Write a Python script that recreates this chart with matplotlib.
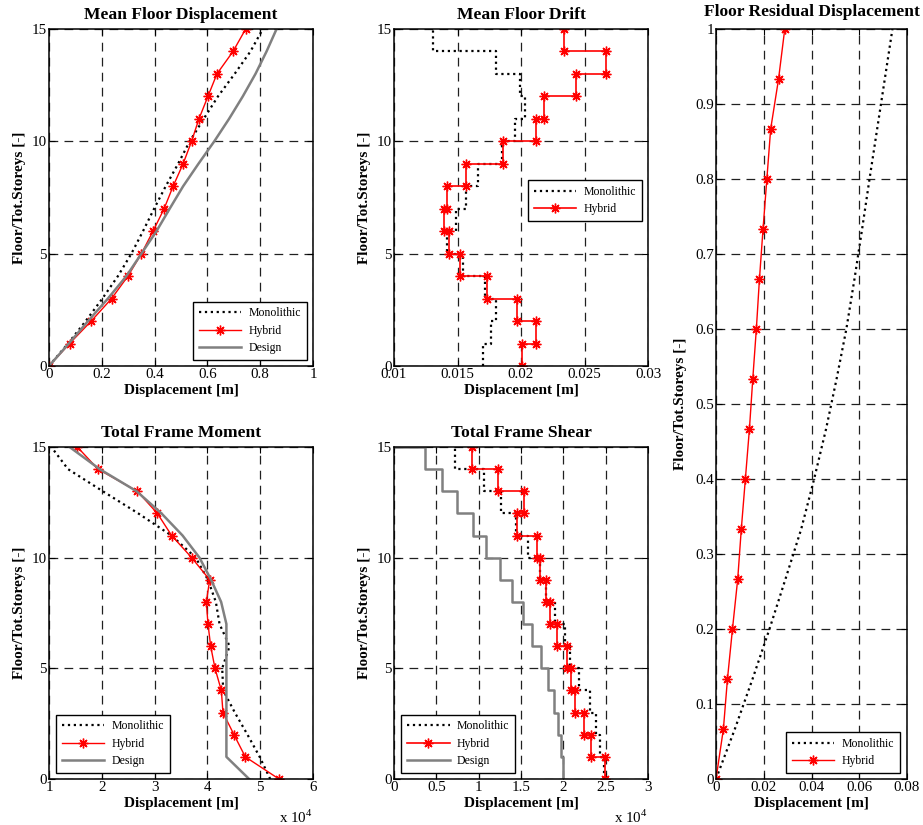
import numpy as np
import matplotlib
matplotlib.use("Agg")
import matplotlib.pyplot as plt
from matplotlib.ticker import FuncFormatter, FixedLocator

plt.rcParams['font.family'] = ['Liberation Serif', 'DejaVu Serif']
plt.rcParams['mathtext.fontset'] = 'custom'
plt.rcParams['mathtext.rm'] = 'Liberation Serif'

# ---------------- data ----------------
floors = np.arange(16)
storeys = 15

# Mean floor displacement [m]
disp_mono = [0, 0.072, 0.139, 0.202, 0.261, 0.312, 0.356, 0.398, 0.442, 0.489,
             0.533, 0.586, 0.640, 0.703, 0.763, 0.810]
disp_hybrid = [0, 0.078, 0.160, 0.237, 0.299, 0.350, 0.394, 0.436, 0.470, 0.508,
               0.540, 0.568, 0.602, 0.636, 0.697, 0.745]
disp_design = [0, 0.075, 0.148, 0.223, 0.293, 0.350, 0.407, 0.457, 0.508, 0.566,
               0.626, 0.682, 0.734, 0.782, 0.824, 0.862]

# Mean floor drift (per storey, storey 1..15)
drift_mono = [0.0170, 0.0176, 0.0180, 0.0172, 0.0154, 0.0142, 0.0149, 0.0157,
              0.0166, 0.0185, 0.0195, 0.0203, 0.0199, 0.0180, 0.0131]
drift_hybrid = [0.0201, 0.0212, 0.0197, 0.0173, 0.0152, 0.0143, 0.0139, 0.0142,
                0.0157, 0.0186, 0.0212, 0.0218, 0.0243, 0.0267, 0.0234]

# Floor residual displacement [m] at floor/total storeys
res_mono = [0, 0.0079, 0.0153, 0.0224, 0.0291, 0.0357, 0.0411, 0.0461, 0.0505,
            0.0546, 0.0580, 0.0612, 0.0643, 0.0675, 0.0707, 0.0739]
res_hybrid = [0, 0.0031, 0.0048, 0.0069, 0.0091, 0.0106, 0.0123, 0.0140, 0.0154,
              0.0169, 0.0182, 0.0197, 0.0213, 0.0229, 0.0262, 0.0288]

# Total frame moment
mom_mono = [51900, 49900, 47600, 45200, 43000, 42800, 44200, 42300, 41600, 40100,
            37800, 33200, 26900, 20200, 13600, 10440]
mom_hybrid = [53560, 47180, 45040, 42950, 42640, 41440, 40620, 40110, 39800, 40430,
              37020, 33230, 30520, 26730, 19280, 15370]
mom_design = [47900, 43600, 43600, 43600, 43600, 43600, 43600, 43600, 42600, 40700,
              38500, 35300, 31300, 26600, 19600, 13900]

# Total frame shear (per storey, storey 1..15)
shear_mono = [24800, 24300, 23800, 23200, 21900, 20750, 20200, 19000, 18000, 17300,
              15800, 14450, 12600, 10600, 7240]
shear_hybrid = [24960, 23310, 22440, 21420, 20870, 20430, 19250, 18430, 17990, 17200,
                16930, 14490, 15350, 12240, 9210]
shear_design = [19960, 19760, 19370, 18860, 18190, 17320, 16340, 15200, 13940, 12480,
                10900, 9330, 7440, 5630, 3660]

# ---------------- styling ----------------
RED = '#ff0000'
GRAY = '#808080'
AST = (8, 2, 0)
TITLE_FS = 12.6
LABEL_FS = 11
TICK_FS = 10.8
LEG_FS = 8.5

fig = plt.figure(figsize=(9.23, 8.25), dpi=100)
W, H = 923.0, 825.0


def add_ax(l, r, t, b):
    return fig.add_axes([l / W, 1 - b / H, (r - l) / W, (b - t) / H])


def style(ax, xlim, xticks, ylim, yticks, title, scale=1.0, tpad=7):
    ax.set_xlim(*xlim)
    ax.set_ylim(*ylim)
    ax.xaxis.set_major_locator(FixedLocator(xticks))
    ax.yaxis.set_major_locator(FixedLocator(yticks))
    ax.xaxis.set_major_formatter(FuncFormatter(lambda x, p: '%g' % round(x / scale, 6)))
    ax.yaxis.set_major_formatter(FuncFormatter(lambda x, p: '%g' % round(x, 6)))
    ax.tick_params(direction='in', length=4, width=0.8, top=True, right=True,
                   labelsize=TICK_FS, pad=1.5)
    ax.grid(True, color='#202020', linestyle=(0, (7, 5)), linewidth=0.9)
    for s in ax.spines.values():
        s.set_linewidth(1.1)
    ax.set_title(title, fontsize=TITLE_FS, fontweight='bold', pad=tpad)
    ax.set_xlabel('Displacement [m]', fontsize=LABEL_FS, fontweight='bold', labelpad=2)
    ax.set_ylabel('Floor/Tot.Storeys [-]', fontsize=LABEL_FS, fontweight='bold', labelpad=4)


def leg(ax, loc, anchor):
    lg = ax.legend(loc=loc, bbox_to_anchor=anchor, borderaxespad=0, fontsize=LEG_FS,
                   handlelength=3.6, fancybox=False, framealpha=1, edgecolor='black',
                   labelspacing=0.45, borderpad=0.5, handletextpad=0.6)
    lg.get_frame().set_linewidth(1.0)


def step_xy(vals):
    xs = np.repeat(np.asarray(vals, float), 2)
    ys = np.concatenate([[f, f + 1] for f in range(len(vals))])
    return xs, ys


# ---- 1: Mean Floor Displacement ----
ax1 = add_ax(49, 313, 29, 366)
ax1.plot(disp_mono, floors, color='black', linestyle=':', linewidth=1.6, label='Monolithic')
ax1.plot(disp_hybrid, floors, color=RED, linewidth=1.0, marker=AST, markersize=7,
         markeredgewidth=1.0, label='Hybrid')
ax1.plot(disp_design, floors, color=GRAY, linewidth=1.8, label='Design')
style(ax1, (0, 1), [0, 0.2, 0.4, 0.6, 0.8, 1.0], (0, 15), [0, 5, 10, 15],
      'Mean Floor Displacement')
leg(ax1, 'lower right', (0.977, 0.018))

# ---- 2: Mean Floor Drift ----
ax2 = add_ax(394, 648, 29, 366)
xm, ym = step_xy(drift_mono)
xh, yh = step_xy(drift_hybrid)
ax2.plot(xm, ym, color='black', linestyle=':', linewidth=1.6, label='Monolithic')
ax2.plot(xh, yh, color=RED, linewidth=1.2, marker=AST, markersize=7,
         markeredgewidth=1.0, label='Hybrid')
style(ax2, (0.01, 0.03), [0.01, 0.015, 0.02, 0.025, 0.03], (0, 15), [0, 5, 10, 15],
      'Mean Floor Drift')
leg(ax2, 'upper right', (0.976, 0.552))

# ---- 3: Floor Residual Displacement ----
ax3 = add_ax(716, 907, 29, 779)
yr = floors / storeys
ax3.plot(res_mono, yr, color='black', linestyle=':', linewidth=1.6, label='Monolithic')
ax3.plot(res_hybrid, yr, color=RED, linewidth=1.0, marker=AST, markersize=7,
         markeredgewidth=1.0, label='Hybrid')
style(ax3, (0, 0.08), [0, 0.02, 0.04, 0.06, 0.08], (0, 1),
      [round(0.1 * i, 1) for i in range(11)], 'Floor Residual Displacement', tpad=9)
ax3.yaxis.labelpad = 6
leg(ax3, 'lower right', (0.963, 0.008))

# ---- 4: Total Frame Moment ----
ax4 = add_ax(49, 313, 447, 779)
ax4.plot(mom_mono, floors, color='black', linestyle=':', linewidth=1.6, label='Monolithic')
ax4.plot(mom_hybrid, floors, color=RED, linewidth=1.0, marker=AST, markersize=7,
         markeredgewidth=1.0, label='Hybrid')
ax4.plot(mom_design, floors, color=GRAY, linewidth=1.8, label='Design')
style(ax4, (10000, 60000), [10000, 20000, 30000, 40000, 50000, 60000], (0, 15),
      [0, 5, 10, 15], 'Total Frame Moment', scale=1e4)
ax4.text(1.0, -0.133, r'x 10$^{4}$', transform=ax4.transAxes, ha='right',
         va='baseline', fontsize=TICK_FS)
leg(ax4, 'lower left', (0.0265, 0.018))

# ---- 5: Total Frame Shear ----
ax5 = add_ax(394, 648, 447, 779)
xm, ym = step_xy(shear_mono)
xh, yh = step_xy(shear_hybrid)
xd, yd = step_xy(shear_design)
xd = np.append(xd, 0)
yd = np.append(yd, storeys)
ax5.plot(xm, ym, color='black', linestyle=':', linewidth=1.6, label='Monolithic')
ax5.plot(xh, yh, color=RED, linewidth=1.2, marker=AST, markersize=7,
         markeredgewidth=1.0, label='Hybrid')
ax5.plot(xd, yd, color=GRAY, linewidth=1.8, label='Design')
style(ax5, (0, 30000), [0, 5000, 10000, 15000, 20000, 25000, 30000], (0, 15),
      [0, 5, 10, 15], 'Total Frame Shear', scale=1e4)
ax5.text(1.0, -0.133, r'x 10$^{4}$', transform=ax5.transAxes, ha='right',
         va='baseline', fontsize=TICK_FS)
leg(ax5, 'lower left', (0.028, 0.018))

fig.savefig('out.png', dpi=100)
